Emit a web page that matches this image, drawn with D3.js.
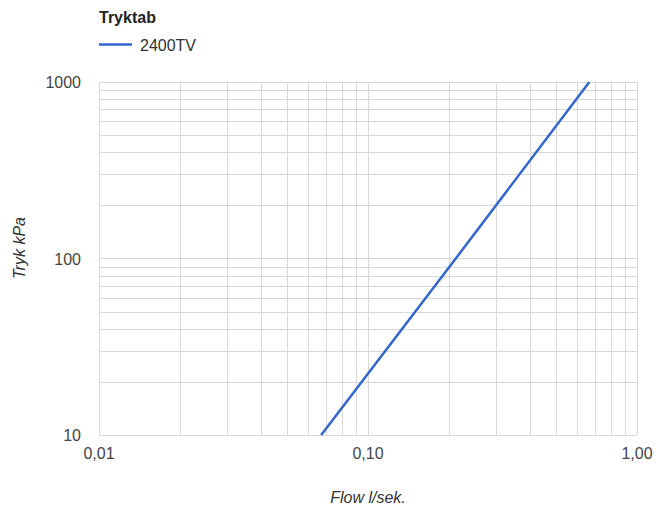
<!DOCTYPE html>
<html lang="da">
<head>
<meta charset="UTF-8">
<title>Tryktab</title>
<script src="https://d3js.org/d3.v7.min.js"></script>
<style>
  body { margin: 0; background: #fff; }
  svg text { font-family: "Liberation Sans", Arial, sans-serif; }
  .grid line { stroke: #d9d9d9; stroke-width: 1; shape-rendering: crispEdges; }
  .tick-label { fill: #444; font-size: 16px; }
</style>
</head>
<body>
<script>
  // series data (flow l/sek. vs pressure kPa)
  var flow = [0.067, 0.212, 0.665];
  var pressure = [10, 100, 1000];
  var seriesName = "2400TV";

  // ticks
  var xTicks = [0.01, 0.1, 1];
  var xTickLabels = ["0,01", "0,10", "1,00"];
  var yTicks = [10, 100, 1000];
  var yTickLabels = ["10", "100", "1000"];

  var W = 656, H = 506;
  var margin = {top: 82, right: 19, bottom: 71, left: 99};
  var width = W - margin.left - margin.right,
      height = H - margin.top - margin.bottom;

  var svg = d3.select("body").append("svg")
      .attr("width", W)
      .attr("height", H);

  var g = svg.append("g")
      .attr("transform", "translate(" + margin.left + "," + margin.top + ")");

  var x = d3.scaleLog().domain([0.01, 1]).range([0, width]);
  var y = d3.scaleLog().domain([10, 1000]).range([height, 0]);

  // minor + major gridlines
  var xGrid = [], yGrid = [];
  [0.01, 0.1].forEach(function(d) { for (var i = 1; i <= 10; i++) xGrid.push(d * i); });
  [10, 100].forEach(function(d) { for (var i = 1; i <= 10; i++) yGrid.push(d * i); });

  var grid = g.append("g").attr("class", "grid");
  grid.selectAll(".vx").data(xGrid).enter().append("line")
      .attr("x1", function(d) { return Math.round(x(d)) + 0.5; })
      .attr("x2", function(d) { return Math.round(x(d)) + 0.5; })
      .attr("y1", 0).attr("y2", height);
  grid.selectAll(".hy").data(yGrid).enter().append("line")
      .attr("y1", function(d) { return Math.round(y(d)) + 0.5; })
      .attr("y2", function(d) { return Math.round(y(d)) + 0.5; })
      .attr("x1", 0).attr("x2", width);

  // tick labels
  g.selectAll(".xl").data(xTicks).enter().append("text")
      .attr("class", "tick-label")
      .attr("x", function(d) { return x(d); })
      .attr("y", height + 24)
      .attr("text-anchor", "middle")
      .text(function(d, i) { return xTickLabels[i]; });

  g.selectAll(".yl").data(yTicks).enter().append("text")
      .attr("class", "tick-label")
      .attr("x", -18)
      .attr("y", function(d) { return y(d) + 6; })
      .attr("text-anchor", "end")
      .text(function(d, i) { return yTickLabels[i]; });

  // series line
  var line = d3.line()
      .x(function(d, i) { return x(flow[i]); })
      .y(function(d) { return y(d); });

  g.append("path")
      .datum(pressure)
      .attr("fill", "none")
      .attr("stroke", "#3366cc")
      .attr("stroke-width", 2.5)
      .attr("d", line);

  // axis titles
  svg.append("text")
      .attr("x", margin.left + width / 2)
      .attr("y", 503)
      .attr("text-anchor", "middle")
      .attr("font-style", "italic")
      .attr("font-size", 16)
      .attr("fill", "#333")
      .text("Flow l/sek.");

  svg.append("text")
      .attr("transform", "translate(25,248) rotate(-90)")
      .attr("text-anchor", "middle")
      .attr("font-style", "italic")
      .attr("font-size", 16)
      .attr("fill", "#333")
      .text("Tryk kPa");

  // title + legend
  svg.append("text")
      .attr("x", 99).attr("y", 23)
      .attr("font-weight", "bold")
      .attr("font-size", 16)
      .attr("fill", "#222")
      .text("Tryktab");

  svg.append("line")
      .attr("x1", 99).attr("x2", 132)
      .attr("y1", 44.5).attr("y2", 44.5)
      .attr("stroke", "#3366cc")
      .attr("stroke-width", 2.5);

  svg.append("text")
      .attr("x", 140).attr("y", 51)
      .attr("font-size", 16)
      .attr("fill", "#333")
      .text(seriesName);
</script>
</body>
</html>
